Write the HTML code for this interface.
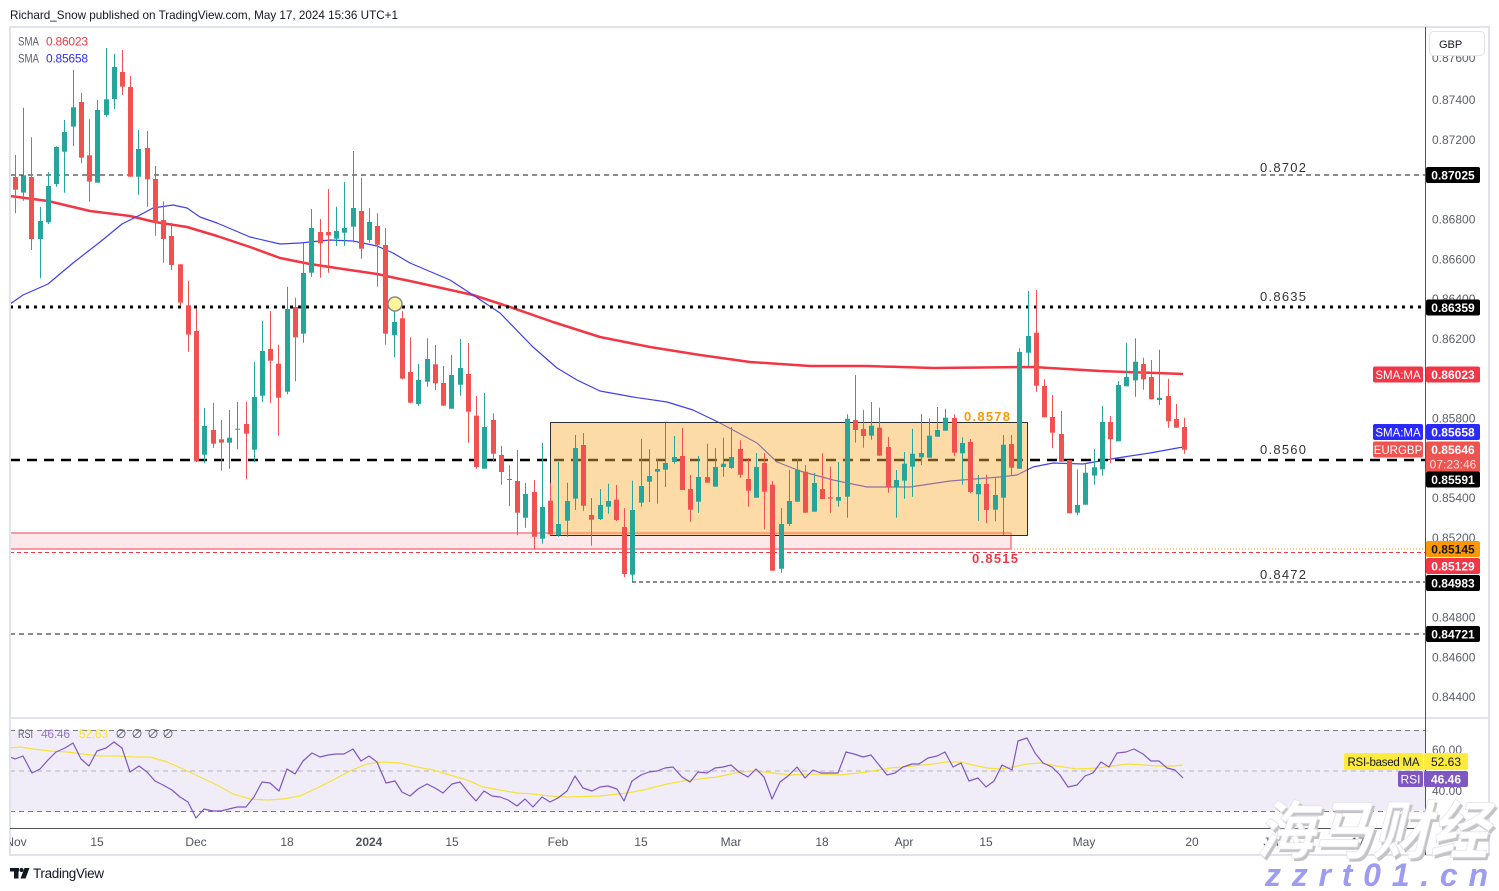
<!DOCTYPE html>
<html><head><meta charset="utf-8">
<style>
html,body{margin:0;padding:0;background:#fff;}
svg{display:block;}
text{font-family:"Liberation Sans","Noto Sans CJK SC",sans-serif;}
</style></head>
<body>
<svg id="s" width="1499" height="891" viewBox="0 0 1499 891" xmlns="http://www.w3.org/2000/svg">
<defs>
<clipPath id="cp"><rect x="10" y="27" width="1415" height="690"/></clipPath>
<clipPath id="cr"><rect x="10" y="719" width="1415" height="108"/></clipPath>
<clipPath id="ct"><rect x="10" y="829" width="1415" height="26"/></clipPath>
</defs>
<rect width="1499" height="891" fill="#fff"/>
<text x="10" y="19" font-size="12" fill="#131722" textLength="388" lengthAdjust="spacingAndGlyphs">Richard_Snow published on TradingView.com, May 17, 2024 15:36 UTC+1</text>

<!-- RSI band -->
<rect x="10" y="730" width="1415" height="81" fill="#f1edf8"/>
<line x1="10" x2="1425" y1="730.5" y2="730.5" stroke="#787b86" stroke-dasharray="5 4"/>
<line x1="10" x2="1425" y1="771" y2="771" stroke="#b2b5be" stroke-dasharray="5 4"/>
<line x1="10" x2="1425" y1="811.5" y2="811.5" stroke="#787b86" stroke-dasharray="5 4"/>

<!-- main pane -->
<g clip-path="url(#cp)">
<polyline fill="none" stroke="#f23645" stroke-width="2.5" stroke-linejoin="round" points="10,196 48,201 90,211 130,216 155,222 187,227 217,236 250,247 280,258 310,264 343,269 377,274 400,279 410,281 473,295 510,307 553,322 600,337 650,347 700,355 750,362 810,366 867,366 933,368 1033,367 1100,371 1183,374"/>
<polyline fill="none" stroke="#3f3ff0" stroke-width="1.2" stroke-linejoin="round" points="10,304 23,295 48,284 73,263 100,242 122,224 140,215 153,208 173,205 187,208 200,217 217,223 250,237 280,244 300,243 330,240 353,241 377,246 393,253 410,263 450,280 473,295 500,313 533,347 557,368 577,380 600,391 633,397 667,402 693,410 720,423 757,443 777,462 800,471 833,480 867,487 910,487 950,481 1000,477 1017,475 1033,467 1053,463 1083,464 1117,458 1150,453 1183,447"/>
<line x1="10" x2="1425" y1="175" y2="175" stroke="#131722" stroke-width="1" stroke-dasharray="5 4"/>
<line x1="10" x2="1425" y1="307" y2="307" stroke="#000" stroke-width="3" stroke-dasharray="3 5"/>
<line x1="10" x2="1425" y1="460" y2="460" stroke="#000" stroke-width="2.5" stroke-dasharray="10 7"/>
<line x1="10" x2="1425" y1="552.5" y2="552.5" stroke="#f23645" stroke-width="1" stroke-dasharray="4 3"/>
<line x1="1011" x2="1425" y1="549" y2="549" stroke="#ff9800" stroke-width="1" stroke-dasharray="1 2"/>
<line x1="632" x2="1425" y1="582" y2="582" stroke="#131722" stroke-width="1" stroke-dasharray="4 3"/>
<line x1="10" x2="1425" y1="634" y2="634" stroke="#131722" stroke-width="1" stroke-dasharray="5 4"/>
<rect x="10" y="533" width="1001" height="16" fill="#fde8ea" stroke="#f47b87" stroke-width="1.5"/>
<rect x="550.5" y="422.5" width="477" height="113" fill="rgba(251,176,59,0.45)" stroke="#2a2e39" stroke-width="1"/>
<g id="candles"></g>
<circle cx="395" cy="304" r="7" fill="#fff59d" stroke="#8a8a8a" stroke-width="1.5"/>
<text x="1260" y="172" font-size="13" fill="#333" textLength="46">0.8702</text>
<text x="1260" y="301" font-size="13" fill="#333" textLength="46">0.8635</text>
<text x="1260" y="454" font-size="13" fill="#333" textLength="46">0.8560</text>
<text x="1260" y="579" font-size="13" fill="#333" textLength="46">0.8472</text>
<text x="964" y="421" font-size="13" font-weight="bold" fill="#ff9800" textLength="46">0.8578</text>
<text x="972" y="563" font-size="13" font-weight="bold" fill="#f23645" textLength="46">0.8515</text>
<text x="18" y="45.5" font-size="12" fill="#5d606b" textLength="21" lengthAdjust="spacingAndGlyphs">SMA</text>
<text x="46" y="45.5" font-size="12" fill="#f23645" textLength="42">0.86023</text>
<text x="18" y="62.5" font-size="12" fill="#5d606b" textLength="21" lengthAdjust="spacingAndGlyphs">SMA</text>
<text x="46" y="62.5" font-size="12" fill="#2e2ef0" textLength="42">0.85658</text>
</g>

<!-- RSI lines -->
<g clip-path="url(#cr)">
<polyline fill="none" stroke="#f5e23a" stroke-width="1.2" points="10,748 20,747 33,749 50,751 67,752 83,754 100,756 117,756 133,757 150,757 167,762 183,769 200,777 217,785 233,794 250,799 267,800 283,799 300,796 317,788 333,780 350,771 367,764 383,762 400,763 417,767 433,770 450,775 467,780 483,787 500,790 517,793 533,794 550,796 567,797 600,796 627,793 643,790 667,784 683,781 717,777 740,772 753,771 773,773 790,775 817,774 840,775 867,772 890,768 913,766 933,764 947,762 960,762 973,765 987,768 1000,769 1013,767 1027,764 1040,763 1057,766 1077,769 1097,768 1113,766 1127,764 1143,765 1157,766 1173,766 1183,765"/>
<polyline fill="none" stroke="#7e57c2" stroke-width="1.2" stroke-linejoin="round" points="10,757 15,759 23,756 32,773 40,769 48,760 56,752 65,748 73,743 81,759 89,766 97,751 106,748 114,742 122,748 130,772 139,766 147,772 155,781 163,785 172,790 180,797 188,802 196,818 204,809 213,811 221,811 229,809 237,807 246,807 254,797 262,782 270,783 279,791 287,769 295,774 303,761 312,753 320,757 328,755 336,754 344,754 353,749 361,761 369,756 377,762 386,783 395,781 402,792 410,796 418,789 427,784 435,788 443,793 452,784 460,782 468,792 476,801 484,791 492,796 500,797 508,800 517,806 525,799 533,807 542,797 550,802 558,798 567,791 575,776 583,788 592,791 600,787 608,786 617,789 624,801 632,781 641,775 649,772 657,771 665,768 673,767 682,777 690,782 698,772 707,773 715,768 723,767 731,765 739,772 748,777 756,769 764,777 772,799 780,782 788,776 797,767 805,778 813,770 821,773 830,773 838,773 846,752 854,754 863,757 871,755 879,765 887,775 895,773 903,767 912,764 919,764 928,758 937,756 945,752 953,767 961,763 969,781 978,778 986,787 994,781 1002,765 1012,770 1018,741 1027,738 1035,753 1043,763 1052,767 1060,775 1068,787 1077,785 1085,776 1093,773 1101,762 1109,767 1117,753 1126,752 1134,749 1143,754 1151,761 1159,761 1167,768 1175,770 1183,778"/>
</g>
<text x="18" y="738" font-size="12" fill="#5d606b" textLength="15" lengthAdjust="spacingAndGlyphs">RSI</text>
<text x="41" y="738" font-size="12" fill="#9575cd" textLength="29">46.46</text>
<text x="79" y="738" font-size="12" fill="#f5e23a" textLength="29">52.63</text>
<text x="115" y="738" font-size="12" fill="#5d606b" font-family="DejaVu Sans, sans-serif">∅</text>
<text x="131" y="738" font-size="12" fill="#5d606b" font-family="DejaVu Sans, sans-serif">∅</text>
<text x="147" y="738" font-size="12" fill="#5d606b" font-family="DejaVu Sans, sans-serif">∅</text>
<text x="162" y="738" font-size="12" fill="#5d606b" font-family="DejaVu Sans, sans-serif">∅</text>

<!-- frame & axes -->
<rect x="10" y="27" width="1479" height="828" fill="none" stroke="#e0e3eb" stroke-width="2"/>
<line x1="10" x2="1489" y1="718" y2="718" stroke="#e0e3eb" stroke-width="2"/>
<line x1="10" x2="1425" y1="828.5" y2="828.5" stroke="#50535e" stroke-width="1"/>
<line x1="1425.5" x2="1425.5" y1="27" y2="855" stroke="#50535e" stroke-width="1"/>

<!-- time labels -->
<g font-size="12" fill="#50535e" text-anchor="middle" clip-path="url(#ct)">
<text x="16" y="846">Nov</text>
<text x="97" y="846">15</text>
<text x="196" y="846">Dec</text>
<text x="287" y="846">18</text>
<text x="369" y="846" font-weight="bold">2024</text>
<text x="452" y="846">15</text>
<text x="558" y="846">Feb</text>
<text x="641" y="846">15</text>
<text x="731" y="846">Mar</text>
<text x="822" y="846">18</text>
<text x="904" y="846">Apr</text>
<text x="986" y="846">15</text>
<text x="1084" y="846">May</text>
<text x="1192" y="846">20</text>
<text x="1273" y="846">Jun</text>
<text x="1358" y="846">17</text>
</g>

<!-- price axis labels -->
<g font-size="12" fill="#5d606b">
<text x="1432" y="62">0.87600</text>
<text x="1432" y="104">0.87400</text>
<text x="1432" y="144">0.87200</text>
<text x="1432" y="223.5">0.86800</text>
<text x="1432" y="263.5">0.86600</text>
<text x="1432" y="303">0.86400</text>
<text x="1432" y="343">0.86200</text>
<text x="1432" y="422.5">0.85800</text>
<text x="1432" y="502">0.85400</text>
<text x="1432" y="542">0.85200</text>
<text x="1432" y="621.5">0.84800</text>
<text x="1432" y="661.5">0.84600</text>
<text x="1432" y="701">0.84400</text>
<text x="1432" y="754">60.00</text>
<text x="1432" y="795">40.00</text>
</g>
<rect x="1429.5" y="31.5" width="55" height="24" rx="4" fill="#fff" stroke="#e0e3eb"/>
<text x="1439" y="48" font-size="11" fill="#131722">GBP</text>

<!-- price label boxes -->
<g font-size="12" font-weight="bold" fill="#fff" text-anchor="middle">
<rect x="1426" y="167" width="54" height="16" rx="2" fill="#000"/><text x="1453" y="179.5">0.87025</text>
<rect x="1426" y="299.5" width="54" height="16" rx="2" fill="#000"/><text x="1453" y="312">0.86359</text>
<rect x="1373" y="366.5" width="50" height="16" rx="2" fill="#f23645"/><text x="1398" y="379" font-weight="normal" font-size="11.5">SMA:MA</text>
<rect x="1426" y="366.5" width="54" height="16" rx="2" fill="#f23645"/><text x="1453" y="379">0.86023</text>
<rect x="1373" y="424" width="50" height="16" rx="2" fill="#2a2aff"/><text x="1398" y="436.5" font-weight="normal" font-size="11.5">SMA:MA</text>
<rect x="1426" y="424" width="54" height="16" rx="2" fill="#2a2aff"/><text x="1453" y="436.5">0.85658</text>
<rect x="1373" y="441.5" width="50" height="16" rx="2" fill="#ef5350"/><text x="1398" y="454" font-weight="normal" font-size="11.5">EURGBP</text>
<rect x="1426" y="441.5" width="54" height="31" rx="2" fill="#ef5350"/><text x="1453" y="454">0.85646</text><text x="1453" y="468.5" font-weight="normal" fill="#fdd">07:23:46</text>
<rect x="1426" y="471.5" width="54" height="16" rx="2" fill="#000"/><text x="1453" y="484">0.85591</text>
<rect x="1426" y="541" width="54" height="16" rx="2" fill="#ff9800"/><text x="1453" y="553.5" fill="#131722">0.85145</text>
<rect x="1426" y="558" width="54" height="16" rx="2" fill="#f23645"/><text x="1453" y="570.5">0.85129</text>
<rect x="1426" y="575" width="54" height="16" rx="2" fill="#000"/><text x="1453" y="587.5">0.84983</text>
<rect x="1426" y="626" width="54" height="16" rx="2" fill="#000"/><text x="1453" y="638.5">0.84721</text>
</g>
<g font-size="12" text-anchor="middle">
<rect x="1344" y="753" width="79" height="17" rx="2" fill="#ffeb3b"/><text x="1383.5" y="766" fill="#131722" font-size="11.5" textLength="72">RSI-based MA</text>
<rect x="1424" y="753" width="44" height="17" rx="2" fill="#ffeb3b"/><text x="1446" y="766" fill="#131722">52.63</text>
<rect x="1398" y="771" width="25" height="16" rx="2" fill="#7e57c2"/><text x="1410.5" y="783.5" fill="#fff">RSI</text>
<rect x="1424" y="771" width="44" height="16" rx="2" fill="#7e57c2"/><text x="1446" y="783.5" fill="#fff" font-weight="bold">46.46</text>
</g>

<!-- TradingView logo -->
<rect x="10" y="868" width="9" height="3.5" fill="#131722"/>
<rect x="14" y="868" width="4.5" height="10.5" fill="#131722"/>
<circle cx="21.5" cy="870" r="2" fill="#131722"/>
<polygon points="24.5,868 29.5,868 25.5,878.5 20.5,878.5" fill="#131722"/>
<text x="33" y="878" font-size="13.5" fill="#131722" textLength="71">TradingView</text>

<!-- watermark -->
<g transform="translate(1256,853) skewX(-14)">
<text x="3" y="3" font-size="63" font-weight="bold" font-family="Noto Sans CJK SC, sans-serif" fill="#c4c4c8" textLength="232" lengthAdjust="spacingAndGlyphs">海马财经</text>
<text x="0" y="0" font-size="63" font-weight="bold" font-family="Noto Sans CJK SC, sans-serif" fill="#ffffff" stroke="#e4e4e8" stroke-width="0.8" textLength="232" lengthAdjust="spacingAndGlyphs">海马财经</text>
</g>
<text x="1265" y="886" font-size="32" font-weight="bold" font-style="italic" fill="#9c9cf0" textLength="223" lengthAdjust="spacing">zzrt01.cn</text>
</svg>
<script>
(function(){
var groups=[[30,"r 441 479 375 550,g 436 488 233 512,r 441 627 322 660,g 573 627 531 745,g 468 577 427 582,g 351 462 349 470,g 306 365 270 488,g 232 290 120 348,r 216 383 188 400,r 376 455 268 515,g 240 458 210 458,g 208 255 54 260,g 111 207 72 237,r 126 170 60 195,r 171 440 138 440,g 357 440 300 494,r 354 448 303 530,r 447 578 408 617,r 570 627 514 698,r 618 705 578 720,r 703 818 703 828,r 826 914 752 965,r 903 1294 836 1296,g 1188 1274 1134 1300,r 1200 1241 1118 1254,r 1228 1238 1170 1322,g 1223 1238 1140 1316,g 1196 1198 1116 1258,r 1182 1211 1115 1348,g 1101 1259 996 1297,g 963 1097 873 1116,r 957 992 843 1120,r 1001 1103 944 1217,g 837 1085 770 1093,r 831 922 803 1054,g 729 911 638 938,g 594 728 537 740,r 606 640 567 743,r 606 616 477 728,g 603 626 530 648,g 594 608 456 648,g 534 590 363 637,r 543 656 443 686,g 576 630 535 638,r 588 644 550 770,r 645 911 594 944,g 876 916 812 982,r 865 1046 843 1048"],
[280,"r 276 368 172 370,g 300 372 252 378,g 237 305 175 320,r 253 310 195 330,r 309 377 258 377,g 285 386 225 386,g 264 314 177 347,r 282 395 189 488,r 407 561 348 566,g 441 566 339 566,r 420 521 400 545,r 525 576 498 614,g 597 599 556 678,r 603 698 510 766,g 642 713 609 743,r 636 770 600 808,g 681 776 489 791,r 662 763 610 766,g 732 766 546 770,g 663 722 608 770,g 504 656 465 690,r 495 677 459 692,r 705 719 654 797,g 675 717 627 720,g 663 680 611 701,r 659 720 615 723,r 741 882 685 891,g 690 884 602 905,g 618 668 477 680,g 588 605 508 666,g 567 575 537 671,g 549 569 428 621,g 531 546 468 551,r 528 630 444 630,r 627 689 585 725,g 591 665 528 698,r 591 608 491 608,g 561 620 504 620,g 551 561 473 590,g 531 564 441 566,r 507 584 481 593,r 597 632 534 680,g 561 653 519 653,r 549 635 519 748,r 614 872 603 872,g 732 866 684 878,g 663 732 570 738,g 569 665 538 665,r 575 698 555 698"],
[280,"g 609 695 578 695,r 627 657 520 657,r 652 656 560 698,g 651 662 546 680,g 416 650 403 713,r 420 450 285 488,r 447 468 389 503,g 437 467 366 479,r 443 527 383 527,r 501 621 471 638,g 600 621 570 713,g 551 602 516 656,g 521 560 446 650,g 519 532 402 555,g 467 533 415 533,g 450 470 381 470,g 413 452 386 452,r 414 518 403 528,g 489 520 472 614,r 486 636 477 640,g 612 643 585 722,r 612 690 584 730,g 645 689 595 724,g 494 653 465 765,r 492 563 465 586,g 216 566 205 566,g 168 218 33 258,r 158 317 30 335,r 318 412 298 412,r 411 458 345 505,r 462 545 393 545,r 540 700 540 700,g 675 698 568 706,g 578 674 550 674,g 562 587 507 614,g 426 568 378 587,r 426 478 408 550,g 315 484 303 484,g 291 319 188 319,g 245 301 175 350,r 252 298 233 329,r 291 358 240 358,g 353 360 209 375,r 348 424 296 443,r 417 443 372 443,r 441 509 413 521"]];
var i=0,h='';
for(var k=0;k<groups.length;k++){
 var y0=groups[k][0], arr=groups[k][1].split(',');
 for(var j=0;j<arr.length;j++){
  var p=arr[j].trim().split(' ');
  var col=p[0]=='r'?'#ef5350':'#26a69a';
  var x=Math.round(15+i*8.233)+0.5;
  var bt=y0+(+p[1])/3, bb=y0+(+p[2])/3, wt=y0+(+p[3])/3, wb=y0+(+p[4])/3;
  h+='<line x1="'+x+'" x2="'+x+'" y1="'+wt.toFixed(1)+'" y2="'+wb.toFixed(1)+'" stroke="'+col+'" stroke-width="1"/>';
  h+='<rect x="'+(x-2.5)+'" y="'+bt.toFixed(1)+'" width="5" height="'+Math.max(1,bb-bt).toFixed(1)+'" fill="'+col+'"/>';
  i++;
 }
}
document.getElementById('candles').innerHTML=h;
})();
</script>
</body></html>
